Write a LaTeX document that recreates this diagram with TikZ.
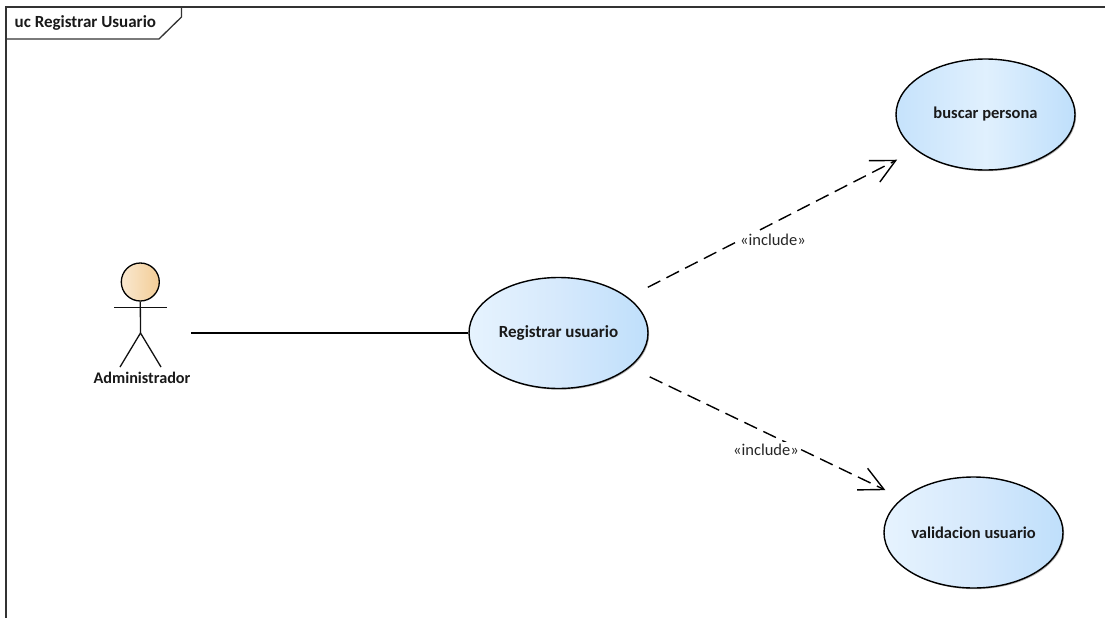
\documentclass[tikz,border=0pt]{standalone}
\usepackage{fontspec}
\setmainfont{Carlito}
\usetikzlibrary{arrows.meta,shapes.geometric,shadows}
\definecolor{ucL}{HTML}{E6F3FE}
\definecolor{ucR}{HTML}{BFDFFB}
\definecolor{ucM}{HTML}{D6E9FC}
\definecolor{headL}{HTML}{F9E8D0}
\definecolor{headR}{HTML}{F3CD96}
\definecolor{inkline}{HTML}{111111}
\tikzset{
  usecase/.style={ellipse,draw=black,line width=1.4pt,minimum width=179pt,minimum height=111pt,inner sep=-8pt,
    font=\fontsize{16.5}{19}\selectfont\bfseries,text=black!90,
    left color=ucL,right color=ucR,middle color=ucM,shading angle=90,
    drop shadow={shadow xshift=1.2pt,shadow yshift=-1.2pt,opacity=.3,fill=black}},
  actorline/.style={draw=inkline,line width=1.3pt},
  assoc/.style={draw=black,line width=1.4pt},
  incl/.style={draw=black,line width=1.4pt,dash pattern=on 14pt off 7pt,
    -{Straight Barb[length=24pt,width=24pt,line width=1.4pt]},
    shorten <=22pt},
  stereo/.style={fill=white,inner xsep=1pt,inner ysep=2pt,font=\fontsize{16.5}{18}\selectfont,text=black!85},
  framel/.style={draw=black!80,line width=1.3pt},
  lbl/.style={font=\fontsize{17}{19}\selectfont\bfseries,text=black!90,inner sep=0pt}
}
\begin{document}
\begin{tikzpicture}[x=1pt,y=-1pt]
\useasboundingbox (0,0) rectangle (1105,618);
% frame
\draw[framel] (6,618) -- (6,7) -- (1105,7);
\draw[framel] (6,39) -- (159,39) -- (181.5,17) -- (181.5,7);
\node[lbl,anchor=west] (title) at (14.5,23) {uc Registrar Usuario};
% use cases
\node[usecase,font=\fontsize{17}{19}\selectfont\bfseries] (reg) at (558.5,333) {Registrar usuario};
\node[usecase,left color=ucR!90!white,right color=ucR,middle color=ucL!85!ucR] (busc) at (985.5,114.5) {buscar persona};
\node[usecase] (valid) at (973.5,532.5) {validacion usuario};
% actor
\node[circle,minimum size=38pt,inner sep=0pt,draw=black,line width=1.3pt,left color=headL,right color=headR,shading angle=90] (head) at (140.3,282) {};
\coordinate (hip) at (140.5,333);
\coordinate (armL) at (114,307.3);
\coordinate (armR) at (167,307.3);
\coordinate (footL) at (120,367);
\coordinate (footR) at (161,367);
\coordinate (actorEnd) at (191,333);
\draw[actorline] (head.south) -- (hip);
\draw[actorline] (armL) -- (armR);
\draw[actorline] (footL) -- (hip) -- (footR);
\node[lbl,font=\fontsize{16.2}{19}\selectfont\bfseries] (admin) at (142,378) {Administrador};
% connectors
\draw[assoc] (actorEnd) -- (reg);
\draw[incl,shorten >=21pt] (reg) -- (busc);
\draw[incl,shorten >=18.5pt] (reg) -- (valid);
\node[stereo] (inc1) at (773,239.5) {«include»};
\node[stereo] (inc2) at (766,449.5) {«include»};
\end{tikzpicture}
\end{document}
